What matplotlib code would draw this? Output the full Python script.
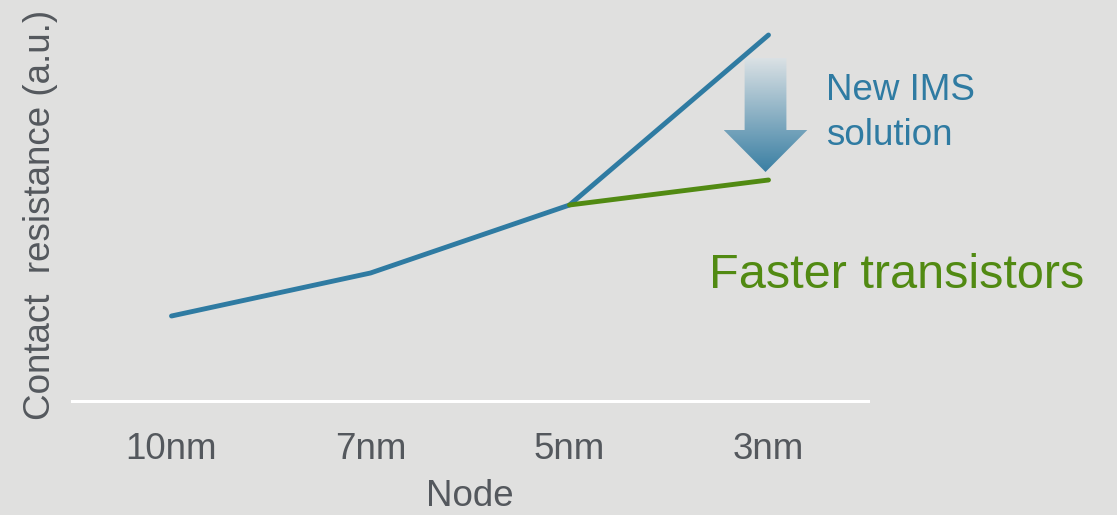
import numpy as np
import matplotlib
matplotlib.use("Agg")
import matplotlib.pyplot as plt
from matplotlib.patches import Polygon
from matplotlib.colors import LinearSegmentedColormap

# Data
nodes = ["10nm", "7nm", "5nm", "3nm"]
baseline_resistance = [2.125, 3.2, 4.9, 9.15]
ims_nodes = ["5nm", "3nm"]
ims_resistance = [4.9, 5.525]

BG = "#E0E0DF"
BLUE = "#2F7BA2"
GREEN = "#518A12"
GREY = "#54585D"
FONT = "Liberation Sans"

W, H = 1117, 515
fig = plt.figure(figsize=(W / 100, H / 100), dpi=100, facecolor=BG)
ax = fig.add_axes([72 / W, (H - 401) / H, 796 / W, 400 / H], facecolor=BG)

x = np.arange(len(nodes))
ims_x = [nodes.index(n) for n in ims_nodes]

ax.plot(x, baseline_resistance, color=BLUE, lw=3.5, solid_capstyle="round", zorder=3)
ax.plot(ims_x, ims_resistance, color=GREEN, lw=3.5, solid_capstyle="round", zorder=4)

ax.set_xlim(-0.5, 3.5)
ax.set_ylim(0, 10)
ax.set_xticks(x)
ax.set_xticklabels(nodes, fontsize=26.5, color=GREY, fontname=FONT)
ax.tick_params(axis="x", length=0, pad=22)
ax.set_yticks([])
for s in ["top", "right", "left"]:
    ax.spines[s].set_visible(False)
ax.spines["bottom"].set_color("white")
ax.spines["bottom"].set_linewidth(2.2)
ax.set_xlabel("Node", fontsize=26.5, color=GREY, fontname=FONT, labelpad=9)

fig.text(41 / W, 1 - 215 / H, "Contact  resistance (a.u.)", rotation=90,
         ha="center", va="center", fontsize=26.5, color=GREY, fontname=FONT)

# Gradient arrow pointing from the baseline endpoint down to the IMS endpoint
cx = 2.985
top = baseline_resistance[-1] - 0.575
tip = ims_resistance[-1] + 0.2
head_base = tip + 1.05
shaft_hw, head_hw = 0.105, 0.21
verts = [(cx - shaft_hw, top), (cx + shaft_hw, top), (cx + shaft_hw, head_base),
         (cx + head_hw, head_base), (cx, tip), (cx - head_hw, head_base),
         (cx - shaft_hw, head_base)]
arrow = Polygon(verts, closed=True, facecolor="none", edgecolor="none", zorder=2)
ax.add_patch(arrow)
cmap = LinearSegmentedColormap.from_list("arr", ["#3A7FA3", "#DCE2E5"])
grad = np.linspace(0, 1, 256).reshape(-1, 1)
im = ax.imshow(grad, cmap=cmap, aspect="auto", origin="lower",
               extent=[cx - head_hw, cx + head_hw, tip, top], zorder=2)
im.set_clip_path(arrow)

ax.text(3.29, 6.39, "New IMS\nsolution", fontsize=26.5, color=BLUE, fontname=FONT,
        ha="left", va="baseline", linespacing=1.37)
ax.text(2.7, 2.83, "Faster transistors", fontsize=35, color=GREEN, fontname=FONT,
        ha="left", va="baseline")

fig.savefig("out.png", dpi=100, facecolor=BG)
